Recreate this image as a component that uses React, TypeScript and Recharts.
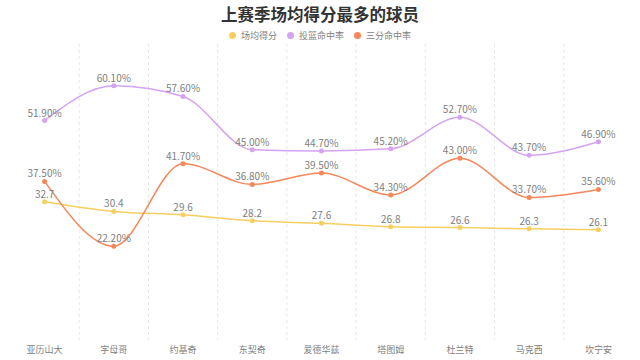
import { CartesianGrid, LabelList, Line, LineChart, XAxis, YAxis } from "recharts";

const players = ["亚历山大", "字母哥", "约基奇", "东契奇", "爱德华兹", "塔图姆", "杜兰特", "马克西", "坎宁安"];
const points = [32.7, 30.4, 29.6, 28.2, 27.6, 26.8, 26.6, 26.3, 26.1];
const fgPct = [51.9, 60.1, 57.6, 45.0, 44.7, 45.2, 52.7, 43.7, 46.9];
const threePct = [37.5, 22.2, 41.7, 36.8, 39.5, 34.3, 43.0, 33.7, 35.6];

const COLORS = {
  points: "#f7cf60",
  fg: "#d6a2f2",
  three: "#f5875a",
};

const FONT = '"Noto Sans CJK SC", "Noto Sans", sans-serif';
const labelStyle = { fill: "#808080", fontSize: 10, fontFamily: FONT };

const data = players.map((name, i) => ({
  name,
  points: points[i],
  fg: fgPct[i],
  three: threePct[i],
}));

const legendItems = [
  { label: "场均得分", color: COLORS.points },
  { label: "投篮命中率", color: COLORS.fg },
  { label: "三分命中率", color: COLORS.three },
];

const pct = (v: unknown) => `${Number(v).toFixed(2)}%`;

export default function App() {
  return (
    <div style={{ position: "absolute", left: 0, top: 0, width: 640, height: 360, background: "#fff", fontFamily: FONT }}>
      <div style={{ position: "absolute", left: 0, top: 2, width: 640, textAlign: "center", fontSize: 16.5, lineHeight: "24px", fontWeight: 700, color: "#333" }}>
        上赛季场均得分最多的球员
      </div>
      <div style={{ position: "absolute", left: 0, top: 28, width: 640, display: "flex", justifyContent: "center", gap: 10, fontSize: 9, color: "#808080", lineHeight: "15px" }}>
        {legendItems.map(it => (
          <span key={it.label} style={{ display: "flex", alignItems: "center" }}>
            <span style={{ width: 7, height: 7, borderRadius: 3.5, background: it.color, marginRight: 5 }} />
            {it.label}
          </span>
        ))}
      </div>
      <LineChart width={640} height={360} data={data} margin={{ top: 44, right: 7, left: 10, bottom: 0 }} style={{ position: "absolute", left: 0, top: 0 }}>
        <CartesianGrid
          horizontal={false}
          stroke="#e6e6e6"
          strokeDasharray="3 3"
          verticalCoordinatesGenerator={({ offset }: any) =>
            players.slice(1).map((_, i) => offset.left + ((i + 1) * offset.width) / players.length)
          }
        />
        <XAxis
          dataKey="name"
          height={20}
          padding={{ left: 34.6, right: 34.6 }}
          axisLine={false}
          tickLine={false}
          tickSize={0}
          tickMargin={7}
          interval={0}
          tick={{ fill: "#808080", fontSize: 9, fontFamily: FONT }}
        />
        <YAxis hide domain={[0, 70]} />
        <Line
          name="场均得分"
          type="monotone"
          dataKey="points"
          stroke={COLORS.points}
          strokeWidth={1.5}
          dot={{ r: 2.5, fill: COLORS.points, stroke: COLORS.points, strokeWidth: 0 }}
          isAnimationActive={false}
        >
          <LabelList dataKey="points" position="top" offset={4} style={labelStyle} />
        </Line>
        <Line
          name="投篮命中率"
          type="monotone"
          dataKey="fg"
          stroke={COLORS.fg}
          strokeWidth={1.5}
          dot={{ r: 2.5, fill: COLORS.fg, stroke: COLORS.fg, strokeWidth: 0 }}
          isAnimationActive={false}
        >
          <LabelList dataKey="fg" position="top" offset={4} formatter={pct} style={labelStyle} />
        </Line>
        <Line
          name="三分命中率"
          type="monotone"
          dataKey="three"
          stroke={COLORS.three}
          strokeWidth={1.5}
          dot={{ r: 2.5, fill: COLORS.three, stroke: COLORS.three, strokeWidth: 0 }}
          isAnimationActive={false}
        >
          <LabelList dataKey="three" position="top" offset={4} formatter={pct} style={labelStyle} />
        </Line>
      </LineChart>
    </div>
  );
}
